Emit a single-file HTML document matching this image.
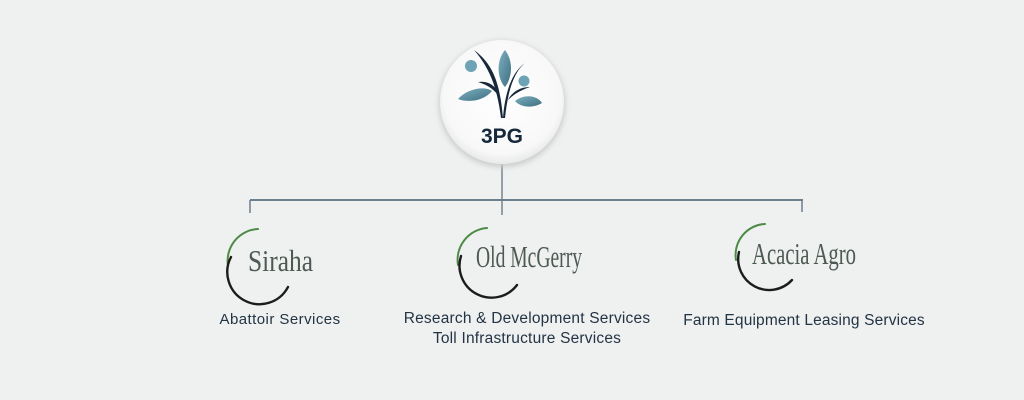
<!DOCTYPE html>
<html><head><meta charset="utf-8"><style>
html,body{margin:0;padding:0;background:#eff0f0;}
body{width:1024px;height:400px;position:relative;overflow:hidden;font-family:"Liberation Sans",sans-serif;}
.t{position:absolute;color:#233444;font-size:15px;text-align:center;white-space:nowrap;}
</style></head><body>
<svg width="1024" height="400" style="position:absolute;left:0;top:0">
<defs>
<radialGradient id="cg" cx="50%" cy="45%" r="55%"><stop offset="0" stop-color="#ffffff"/><stop offset="0.85" stop-color="#f8f8f8"/><stop offset="1" stop-color="#e8e9e9"/></radialGradient>
<linearGradient id="lf" x1="0" y1="0" x2="1" y2="1"><stop offset="0" stop-color="#7fb0c0"/><stop offset="1" stop-color="#3d6f82"/></linearGradient>
<filter id="sh" x="-30%" y="-30%" width="160%" height="160%"><feGaussianBlur stdDeviation="3"/></filter>
</defs>
<line x1="502" y1="160" x2="502" y2="215" stroke="#3c4d5c" stroke-width="1"/>
<line x1="250" y1="200" x2="803" y2="200" stroke="#6d7f8d" stroke-width="2"/>
<line x1="250" y1="200" x2="250" y2="213" stroke="#6d7f8d" stroke-width="1.5"/>
<line x1="802" y1="200" x2="802" y2="212" stroke="#6d7f8d" stroke-width="1.5"/>
<circle cx="502" cy="104" r="63" fill="#c9cccc" filter="url(#sh)"/>
<circle cx="502" cy="102" r="62" fill="url(#cg)"/>
<path d="M505 50 C495 62 498 80 505 87 C512 78 514 62 505 50Z" fill="url(#lf)"/>
<circle cx="471" cy="66" r="6" fill="#6ea3b5"/>
<circle cx="524" cy="81" r="5.5" fill="#6ea3b5"/>
<path d="M458 99 C468 88 485 86 492 91 C484 101 468 103 458 99Z" fill="url(#lf)"/>
<path d="M515 101 C525 93 538 96 542 103 C532 109 520 107 515 101Z" fill="url(#lf)"/>
<path d="M474 50 C490 62 500 78 503 118 L501 118 C497 85 488 66 474 50Z" fill="#16283a"/>
<path d="M478 82 C490 80 498 88 500 98 C495 90 488 85 478 82Z" fill="#16283a"/>
<path d="M525 63 C514 72 508 90 505 118 L503 118 C505 92 512 72 525 63Z" fill="#16283a"/>
<path d="M530 87 C520 87 512 92 508 100 C514 94 521 90 530 87Z" fill="#16283a"/>
<text x="502" y="143" text-anchor="middle" font-family="Liberation Sans, sans-serif" font-weight="bold" font-size="21" fill="#16283a">3PG</text>
<g fill="none" stroke-linecap="round">
<path d="M258 229 A32 32 0 0 0 228 266" stroke="#4c8a45" stroke-width="2"/>
<path d="M231 257 A32 32 0 0 0 288 287" stroke="#1c1c1c" stroke-width="2.4"/>
<path d="M487 228 A32 32 0 0 0 458 265" stroke="#4c8a45" stroke-width="2"/>
<path d="M461 256 A32 32 0 0 0 517 285" stroke="#1c1c1c" stroke-width="2.4"/>
<path d="M765 224 A31 31 0 0 0 736 260" stroke="#4c8a45" stroke-width="2"/>
<path d="M739 252 A31 31 0 0 0 792 280" stroke="#1c1c1c" stroke-width="2.4"/>
</g>
<g font-family="Liberation Serif, serif" fill="#4d5a52" font-size="31">
<text x="248" y="271" textLength="65" lengthAdjust="spacingAndGlyphs">Siraha</text>
<text x="476" y="267" textLength="106" lengthAdjust="spacingAndGlyphs">Old McGerry</text>
<text x="752" y="264" textLength="104" lengthAdjust="spacingAndGlyphs">Acacia Agro</text>
</g>
</svg>
<div class="t" style="left:180px;width:200px;top:311px;letter-spacing:0.45px;">Abattoir Services</div>
<div class="t" style="left:377px;width:300px;top:309px;line-height:20px;font-size:15.5px;letter-spacing:0.2px;">Research &amp; Development Services<br>Toll Infrastructure Services</div>
<div class="t" style="left:654px;width:300px;top:312px;font-size:15.5px;letter-spacing:0.15px;">Farm Equipment Leasing Services</div>
</body></html>
